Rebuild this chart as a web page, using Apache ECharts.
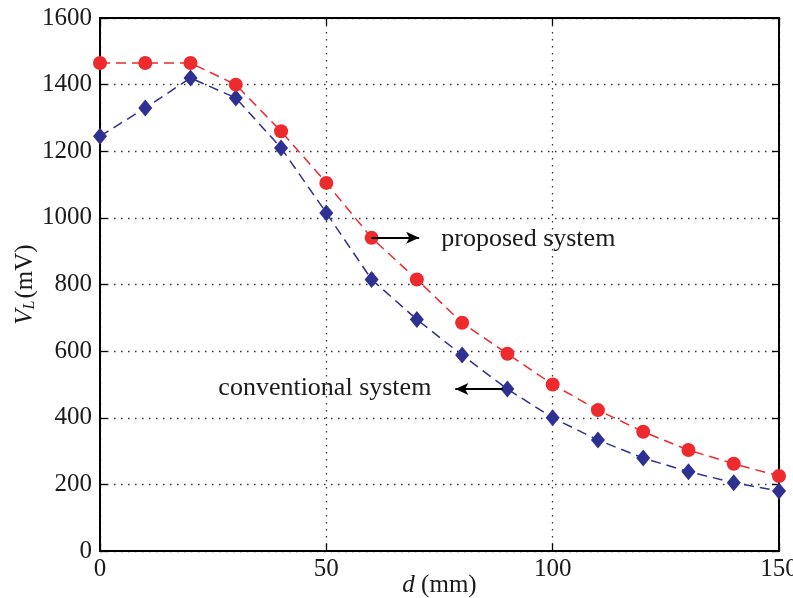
<!DOCTYPE html>
<html>
<head>
<meta charset="utf-8">
<script src="https://cdn.jsdelivr.net/npm/echarts@6/dist/echarts.min.js"></script>
<style>
html,body{margin:0;padding:0;background:#fff;}
#chart{width:793px;height:598px;}
</style>
</head>
<body>
<div id="chart"></div>
<script>
const distances = [0,10,20,30,40,50,60,70,80,90,100,110,120,130,140,150];
const proposed = [1465,1465,1465,1400,1260,1105,940,815,685,592,500,423,358,303,262,225];
const conventional = [1245,1330,1420,1360,1210,1015,815,695,588,486,400,333,279,238,205,180];
const xTicks = [0,50,100,150];
const yTicks = [0,200,400,600,800,1000,1200,1400,1600];
const proposedLabel = 'proposed system';
const conventionalLabel = 'conventional system';

const FONT = 'Liberation Serif';
const RED = '#ED2A2E';
const BLUE = '#2E3192';
const TXT = '#1a1a1a';

const chart = echarts.init(document.getElementById('chart'));

function pairs(xs, ys){ return xs.map((x,i)=>[x, ys[i]]); }

const tickCommon = {show:true, inside:true, length:7, lineStyle:{color:'#000', width:1.3}};
const option = {
  animation:false,
  backgroundColor:'#fff',
  grid:{left:100, right:14, top:18, bottom:47, containLabel:false, outerBoundsMode:'none'},
  xAxis:[{
    type:'value', min:xTicks[0], max:xTicks[xTicks.length-1], interval:50,
    axisLine:{show:true, onZero:false, lineStyle:{color:'#000', width:2}},
    axisTick:tickCommon,
    axisLabel:{color:TXT, fontFamily:FONT, fontSize:25, margin:6, formatter:v=>String(v)},
    splitLine:{show:true, lineStyle:{color:'#333', type:[1.5,5.5], width:1.3}},
    name:'{i|d} (mm)', nameLocation:'middle', nameGap:22, nameMoveOverlap:false,
    nameTextStyle:{color:TXT, fontFamily:FONT, fontSize:25, rich:{i:{fontStyle:'italic', fontFamily:FONT, fontSize:25, color:TXT}}}
  },{
    type:'value', min:xTicks[0], max:xTicks[xTicks.length-1], interval:50, position:'top',
    axisLine:{show:true, onZero:false, lineStyle:{color:'#000', width:2}},
    axisTick:tickCommon, axisLabel:{show:false}, splitLine:{show:false}
  }],
  yAxis:[{
    type:'value', min:yTicks[0], max:yTicks[yTicks.length-1], interval:200,
    axisLine:{show:true, onZero:false, lineStyle:{color:'#000', width:2}},
    axisTick:tickCommon,
    axisLabel:{color:TXT, fontFamily:FONT, fontSize:25, margin:8, formatter:v=>String(v)},
    splitLine:{show:true, lineStyle:{color:'#333', type:[1.5,5.5], width:1.3}},
    name:'{i|V}{s|L}(mV)', nameLocation:'middle', nameGap:62, nameMoveOverlap:false,
    nameTextStyle:{color:TXT, fontFamily:FONT, fontSize:25, rich:{
      i:{fontStyle:'italic', fontFamily:FONT, fontSize:25, color:TXT},
      s:{fontStyle:'italic', fontFamily:FONT, fontSize:16, color:TXT, verticalAlign:'bottom', padding:[10,2,0,0]}
    }}
  },{
    type:'value', min:yTicks[0], max:yTicks[yTicks.length-1], interval:200, position:'right',
    axisLine:{show:true, onZero:false, lineStyle:{color:'#000', width:2}},
    axisTick:tickCommon, axisLabel:{show:false}, splitLine:{show:false}
  }],
  series:[{
    name:'proposed', type:'line', data:pairs(distances, proposed),
    symbol:'circle', symbolSize:14, itemStyle:{color:RED},
    lineStyle:{color:RED, width:1.5, type:[10,6]}, z:3,
    markLine:{
      silent:true, symbol:['none','arrow'], symbolSize:[9,13],
      lineStyle:{color:'#000', width:2, type:'solid'}, label:{show:false},
      data:[[{coord:[60,940]},{coord:[70.5,940]}]]
    }
  },{
    name:'conventional', type:'line', data:pairs(distances, conventional),
    symbol:'diamond', symbolSize:[14,17], itemStyle:{color:BLUE},
    lineStyle:{color:BLUE, width:1.5, type:[10,6]}, z:2,
    markLine:{
      silent:true, symbol:['none','arrow'], symbolSize:[9,13],
      lineStyle:{color:'#000', width:2, type:'solid'}, label:{show:false},
      data:[[{coord:[89,486]},{coord:[78.5,486]}]]
    }
  }]
};
chart.setOption(option);

const p1 = chart.convertToPixel({gridIndex:0}, [75.4, 940]);
const p2 = chart.convertToPixel({gridIndex:0}, [73.2, 489]);
chart.setOption({
  graphic:[
    {type:'text', left:p1[0], top:p1[1]-12, style:{text:proposedLabel, font:'26px "Liberation Serif"', fill:TXT}},
    {type:'text', right:793-p2[0], top:p2[1]-13, style:{text:conventionalLabel, font:'26px "Liberation Serif"', fill:TXT}}
  ]
});
</script>
</body>
</html>
